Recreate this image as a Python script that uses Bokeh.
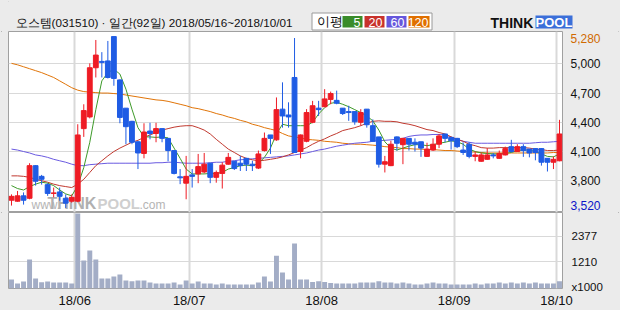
from bokeh.plotting import figure
from bokeh.layouts import column, row
from bokeh.models import Range1d, FixedTicker, ColumnDataSource
from bokeh.embed import file_html
from bokeh.resources import INLINE
from bokeh.core.properties import value

# ---------------- data ----------------
title_text = "오스템(031510) · 일간(92일) 2018/05/16~2018/10/01"
legend_title = "이평"
ma_labels = ["5", "20", "60", "120"]
month_start_idx = [11, 30, 52, 74, 91]
month_labels = ["18/06", "18/07", "18/08", "18/09", "18/10"]
price_ticks = [3800, 4100, 4400, 4700, 5000]
price_max = 5280
price_min = 3520
vol_ticks = [1210, 2377]
vol_unit = "x1000"

open_ = [3600, 3590, 3645, 3620, 3955, 3845, 3760, 3670, 3685, 3620,
         3590, 3590, 4335, 4455, 4960, 5025, 5030, 5280, 4835, 4545,
         4410, 4200, 4080, 4310, 4285, 4335, 4235, 4110, 3840, 3775,
         3860, 3870, 3890, 3980, 3835, 3875, 3970, 4000, 3980, 4030,
         3970, 3930, 4110, 4270, 4220, 4535, 4475, 4860, 4100, 4205,
         4400, 4545, 4560, 4635, 4625, 4545, 4510, 4510, 4400, 4535,
         4365, 4250, 3970, 3955, 4250, 4170, 4235, 4195, 4200, 4050,
         4115, 4175, 4280, 4245, 4235, 4115, 4175, 4050, 4000, 4020,
         4065, 4030, 4065, 4150, 4100, 4150, 4125, 4130, 4130, 4030,
         3990, 4005]
high = [3660, 3695, 3680, 3980, 3960, 3860, 3775, 3730, 3730, 3660,
        3660, 4380, 4585, 5005, 5245, 5120, 5235, 5280, 4840, 4545,
        4415, 4205, 4390, 4395, 4395, 4335, 4235, 4110, 3920, 4055,
        3920, 4075, 4085, 3980, 3905, 3990, 4085, 4000, 4055, 4035,
        4005, 4110, 4295, 4270, 4655, 4810, 4605, 5265, 4275, 4535,
        4620, 4620, 4740, 4715, 4725, 4545, 4570, 4510, 4535, 4535,
        4430, 4250, 4055, 4210, 4255, 4240, 4235, 4235, 4200, 4190,
        4235, 4280, 4280, 4245, 4240, 4195, 4195, 4100, 4090, 4135,
        4085, 4110, 4150, 4220, 4175, 4175, 4125, 4135, 4135, 4030,
        4050, 4425]
low = [3545, 3585, 3555, 3610, 3750, 3760, 3645, 3630, 3595, 3520,
       3575, 3580, 4250, 4440, 4860, 4860, 4850, 4775, 4390, 4175,
       4175, 3920, 4030, 4225, 4195, 4195, 4000, 3865, 3765, 3610,
       3730, 3775, 3875, 3775, 3780, 3720, 3965, 3910, 3900, 3900,
       3900, 3920, 4100, 4075, 4210, 4345, 4345, 4085, 4030, 4195,
       4390, 4465, 4555, 4585, 4585, 4475, 4415, 4375, 4365, 4345,
       4200, 3935, 3885, 3950, 4110, 3970, 4110, 4100, 4045, 4045,
       4105, 4135, 4195, 4120, 4135, 4065, 4030, 4000, 3995, 4015,
       4030, 4025, 4060, 4090, 4095, 4045, 4040, 4010, 3955, 3895,
       3920, 4000]
close_ = [3640, 3645, 3600, 3955, 3795, 3815, 3670, 3675, 3640, 3570,
          3630, 4270, 4520, 4960, 5090, 5015, 4860, 4850, 4450, 4355,
          4195, 4085, 4300, 4285, 4335, 4235, 4110, 3875, 3830, 3845,
          3845, 3945, 3970, 3835, 3885, 3960, 4040, 3925, 3955, 3970,
          3955, 4075, 4235, 4235, 4530, 4465, 4455, 4090, 4270, 4500,
          4570, 4530, 4640, 4695, 4595, 4490, 4500, 4405, 4500, 4375,
          4205, 3970, 3995, 4175, 4185, 4235, 4175, 4175, 4135, 4125,
          4175, 4260, 4235, 4210, 4150, 4090, 4050, 4065, 4065, 4065,
          4055, 4080, 4130, 4100, 4150, 4110, 4085, 4090, 3990, 3990,
          4020, 4280]
volume = [405, 225, 315, 1315, 450, 285, 315, 270, 270, 270,
          225, 3410, 1270, 1725, 1315, 450, 450, 545, 635, 360,
          330, 360, 360, 270, 225, 225, 225, 270, 180, 360,
          225, 315, 225, 225, 180, 225, 180, 180, 180, 180,
          180, 270, 545, 315, 1495, 725, 405, 2045, 405, 405,
          300, 330, 300, 255, 225, 225, 225, 225, 270, 270,
          270, 330, 270, 270, 225, 270, 225, 180, 180, 225,
          270, 225, 225, 180, 180, 180, 180, 225, 180, 225,
          225, 270, 225, 270, 225, 270, 225, 270, 225, 225,
          225, 330]
ma5 = [3750, 3720, 3705, 3740, 3765, 3785, 3775, 3750, 3705, 3665,
       3645, 3750, 3935, 4195, 4530, 4825, 4910, 4945, 4895, 4740,
       4535, 4345, 4250, 4250, 4245, 4250, 4240, 4135, 4030, 3920,
       3870, 3870, 3870, 3875, 3875, 3885, 3920, 3935, 3955, 3960,
       3955, 3980, 4040, 4135, 4280, 4380, 4365, 4365, 4365, 4365,
       4400, 4485, 4550, 4595, 4605, 4585, 4560, 4530, 4500, 4465,
       4415, 4320, 4200, 4135, 4115, 4135, 4155, 4170, 4170, 4160,
       4170, 4185, 4195, 4210, 4200, 4175, 4125, 4100, 4085, 4080,
       4075, 4075, 4080, 4090, 4110, 4115, 4115, 4100, 4075, 4050,
       4045, 4075]
ma20 = [3850, 3850, 3845, 3835, 3815, 3800, 3785, 3765, 3750, 3740,
        3730, 3765, 3815, 3885, 3955, 4005, 4055, 4100, 4135, 4165,
        4195, 4215, 4245, 4270, 4295, 4320, 4335, 4350, 4360, 4365,
        4365, 4345, 4320, 4280, 4225, 4175, 4125, 4090, 4055, 4030,
        4015, 4005, 4010, 4020, 4030, 4045, 4065, 4090, 4115, 4140,
        4175, 4205, 4230, 4260, 4285, 4315, 4330, 4345, 4365, 4390,
        4410, 4415, 4410, 4410, 4405, 4390, 4380, 4365, 4345, 4325,
        4315, 4295, 4280, 4250, 4225, 4205, 4175, 4160, 4140, 4135,
        4135, 4140, 4140, 4140, 4140, 4140, 4135, 4125, 4120, 4110,
        4110, 4115]
ma60 = [4125, 4115, 4100, 4085, 4065, 4055, 4040, 4020, 4005, 3990,
        3970, 3955, 3955, 3965, 3970, 3975, 3980, 3980, 3980, 3980,
        3980, 3980, 3980, 3980, 3985, 3985, 3990, 3990, 3985, 3980,
        3980, 3980, 3980, 3985, 3990, 3990, 4000, 4005, 4015, 4020,
        4025, 4030, 4035, 4040, 4045, 4050, 4055, 4065, 4075, 4085,
        4100, 4115, 4125, 4140, 4155, 4165, 4175, 4185, 4190, 4195,
        4205, 4210, 4215, 4220, 4225, 4235, 4255, 4265, 4270, 4270,
        4275, 4275, 4270, 4250, 4225, 4205, 4195, 4185, 4185, 4185,
        4185, 4185, 4185, 4185, 4185, 4185, 4185, 4190, 4195, 4195,
        4200, 4205]
ma120 = [5005, 4990, 4970, 4950, 4930, 4910, 4885, 4860, 4825, 4790,
         4755, 4730, 4715, 4710, 4705, 4700, 4700, 4695, 4690, 4680,
         4670, 4660, 4650, 4640, 4630, 4625, 4615, 4600, 4585, 4570,
         4550, 4540, 4525, 4510, 4490, 4475, 4455, 4440, 4420, 4405,
         4380, 4365, 4345, 4330, 4315, 4285, 4260, 4250, 4240, 4225,
         4220, 4215, 4205, 4200, 4195, 4185, 4180, 4175, 4175, 4170,
         4165, 4160, 4150, 4145, 4140, 4130, 4130, 4125, 4125, 4120,
         4120, 4115, 4110, 4110, 4105, 4100, 4095, 4095, 4090, 4085,
         4085, 4085, 4085, 4085, 4085, 4085, 4085, 4085, 4085, 4085,
         4090, 4090]

# ---------------- styling / layout ----------------
KFONT = "Liberation Sans"   # Hangul falls back to the installed CJK font
NFONT = "Liberation Sans"
BG = "#ebebeb"
RED = "#ee1b24"
BLUE = "#1f5ce4"
VOL_COLOR = "#a3adc6"
GRID = "#d9d9d9"
FRAME = "#a0a0a0"
TXT = "#111111"
MA_COLORS = ["#3e9a2a", "#c0392f", "#6a5ae0", "#e07408"]
LEGEND_COLORS = ["#3a8c2a", "#c8322c", "#6657dc", "#e07000"]
MAX_COLOR = "#d06a00"
MIN_COLOR = "#0a14c8"

W = 620
FRAME_L, FRAME_R = 8, 562
HEAD_H = 31
PRICE_H = 181
VOL_FRAME_H = 76
VOL_BOTTOM = 22
PRICE_RANGE = (3474, 5332)
VOL_RANGE = (0, 3460)

N = len(close_)
idx = list(range(N))
up = [c >= o for o, c in zip(open_, close_)]
src = ColumnDataSource(dict(
    x=idx, o=open_, h=high, l=low, c=close_,
    top=[max(o, c) for o, c in zip(open_, close_)],
    bot=[min(o, c) for o, c in zip(open_, close_)],
    color=[RED if u else BLUE for u in up],
    vol=volume, ma5=ma5, ma20=ma20, ma60=ma60, ma120=ma120,
))
month_pos = [i - 0.5 for i in month_start_idx]


def bare(fig, bg=BG):
    fig.grid.visible = False
    fig.outline_line_color = None
    fig.background_fill_color = bg
    fig.border_fill_color = bg
    return fig


# ---------------- header strip ----------------
hd = figure(title=None, frame_width=W, frame_height=HEAD_H, x_range=Range1d(0, W),
            y_range=Range1d(HEAD_H, 0), output_backend="svg", toolbar_location=None,
            min_border=0, min_border_left=0, min_border_right=0, min_border_top=0,
            min_border_bottom=0, x_axis_location=None, y_axis_location=None)
bare(hd)
hd.text(x=[7], y=[21.5], text=[title_text], text_font=value(KFONT), text_font_size="11.7px",
        text_baseline="middle", text_color=TXT)
hd.quad(left=[303.5], right=[423.5], top=[12.5], bottom=[29.5], fill_color="white",
        line_color="#9a9a9a")
hd.text(x=[308], y=[21], text=[legend_title], text_font=value(KFONT), text_font_size="12.5px",
        text_baseline="middle", text_color=TXT)
hd.quad(left=[334, 356, 378, 400], right=[354, 376, 398, 421], top=[15.5] * 4, bottom=[27] * 4,
        fill_color=LEGEND_COLORS, line_color=None)
hd.text(x=[352, 374, 396, 420], y=[21.5] * 4, text=ma_labels, text_font=value(NFONT),
        text_font_size="12.5px", text_baseline="middle", text_align="right", text_color="white")
hd.text(x=[482], y=[22], text=["THINK"], text_font=value(NFONT), text_font_style="bold",
        text_font_size="14px", text_baseline="middle", text_color=TXT)
hd.quad(left=[527], right=[564], top=[15], bottom=[28], fill_color="#3b6fd9", line_color=None)
hd.text(x=[545.5], y=[22], text=["POOL"], text_font=value(NFONT), text_font_style="bold",
        text_font_size="13px", text_baseline="middle", text_align="center", text_color="white")

# ---------------- price panel ----------------
pf = figure(width=FRAME_R + 1, height=PRICE_H, x_range=Range1d(-0.5, N - 0.5),
            y_range=Range1d(*PRICE_RANGE), output_backend="svg", toolbar_location=None,
            x_axis_location=None, y_axis_location=None,
            min_border_left=FRAME_L, min_border_right=1, min_border_top=0, min_border_bottom=0)
pf.background_fill_color = "white"
pf.border_fill_color = BG
pf.outline_line_color = FRAME
pf.outline_line_width = 1
pf.xgrid.ticker = FixedTicker(ticks=month_pos)
pf.xgrid.grid_line_color = GRID
pf.xgrid.grid_line_width = 2
pf.ygrid.ticker = FixedTicker(ticks=price_ticks)
pf.ygrid.grid_line_color = GRID
pf.ygrid.grid_line_width = 1


def px_x(px):
    return -0.5 + (px - FRAME_L) * N / (FRAME_R - FRAME_L)


def px_y(py):
    return PRICE_RANGE[1] - (py - HEAD_H) * (PRICE_RANGE[1] - PRICE_RANGE[0]) / PRICE_H


# watermark
pf.text(x=[px_x(31)], y=[px_y(204)], text=["www."], text_font=value(NFONT),
        text_font_size="12px", text_baseline="middle", text_color="#b4b4b4")
pf.text(x=[px_x(47)], y=[px_y(203)], text=["THINK"], text_font=value(NFONT),
        text_font_style="bold", text_font_size="16px", text_baseline="middle", text_color="#b0b0b0")
pf.text(x=[px_x(97)], y=[px_y(203)], text=["POOL"], text_font=value(NFONT),
        text_font_style="bold", text_font_size="15px", text_baseline="middle", text_color="#cfcfcf")
pf.text(x=[px_x(139)], y=[px_y(204)], text=[".com"], text_font=value(NFONT),
        text_font_size="12px", text_baseline="middle", text_color="#b4b4b4")

for key, col in zip(["ma120", "ma60", "ma20", "ma5"], MA_COLORS[::-1]):
    pf.line("x", key, source=src, line_color=col, line_width=1)

pf.segment(x0="x", x1="x", y0="l", y1="h", source=src, line_color="color", line_width=1)
pf.vbar(x="x", top="top", bottom="bot", width=0.8, source=src, fill_color="color",
        line_color="color", line_width=1)

# price scale labels (share the price panel's y scale)
ps = bare(figure(width=W - FRAME_R - 1, height=PRICE_H, x_range=Range1d(0, W - FRAME_R - 1),
                 y_range=pf.y_range, output_backend="svg", toolbar_location=None, min_border=0,
                 x_axis_location=None, y_axis_location=None))
scale_vals = [price_max] + price_ticks[::-1] + [price_min]
scale_txt = [f"{v:,}" for v in scale_vals]
scale_col = [MAX_COLOR] + [TXT] * len(price_ticks) + [MIN_COLOR]
scale_off = [2] + [0] * len(price_ticks) + [-3]
ps.text(x=[7] * len(scale_vals), y=scale_vals, text=scale_txt, text_color=scale_col,
        y_offset=scale_off, text_font=value(NFONT), text_font_size="12px", text_baseline="middle")

# ---------------- volume panel ----------------
vf = figure(width=W, height=VOL_FRAME_H + VOL_BOTTOM, x_range=pf.x_range, y_range=Range1d(*VOL_RANGE),
            output_backend="svg", toolbar_location=None, x_axis_location="below", y_axis_location="right",
            min_border_left=FRAME_L, min_border_right=W - FRAME_R, min_border_top=0,
            min_border_bottom=VOL_BOTTOM)
vf.background_fill_color = "white"
vf.border_fill_color = BG
vf.outline_line_color = FRAME
vf.outline_line_width = 1
vf.xgrid.ticker = FixedTicker(ticks=month_pos)
vf.xgrid.grid_line_color = GRID
vf.xgrid.grid_line_width = 2
vf.ygrid.ticker = FixedTicker(ticks=vol_ticks)
vf.ygrid.grid_line_color = GRID
vf.ygrid.grid_line_width = 1

xa = vf.xaxis[0]
xa.ticker = FixedTicker(ticks=month_pos)
xa.major_label_overrides = {p: lab for p, lab in zip(month_pos, month_labels)}
xa.major_tick_line_color = None
xa.major_tick_out = 0
xa.major_tick_in = 0
xa.minor_tick_line_color = None
xa.minor_tick_out = 0
xa.axis_line_color = None
xa.major_label_standoff = 4
xa.major_label_text_font = NFONT
xa.major_label_text_font_size = "13px"
xa.major_label_text_color = TXT

unit_tick = 90
ya = vf.yaxis[0]
ya.ticker = FixedTicker(ticks=[unit_tick] + vol_ticks)
ya.major_label_overrides = {unit_tick: vol_unit, **{t: str(t) for t in vol_ticks}}
ya.major_tick_line_color = None
ya.major_tick_out = 0
ya.major_tick_in = 0
ya.minor_tick_line_color = None
ya.minor_tick_out = 0
ya.axis_line_color = None
ya.major_label_standoff = 9
ya.major_label_text_font = NFONT
ya.major_label_text_font_size = "11.5px"
ya.major_label_text_color = TXT

vf.vbar(x="x", top="vol", bottom=0, width=0.82, source=src, fill_color=VOL_COLOR, line_color=None)

layout = column(hd, row(pf, ps, spacing=0), vf, spacing=0)
layout.styles = {"background-color": BG, "outline": "1px solid #a4a4a4", "outline-offset": "-2px"}

open("out.html", "w").write(file_html(layout, INLINE))
